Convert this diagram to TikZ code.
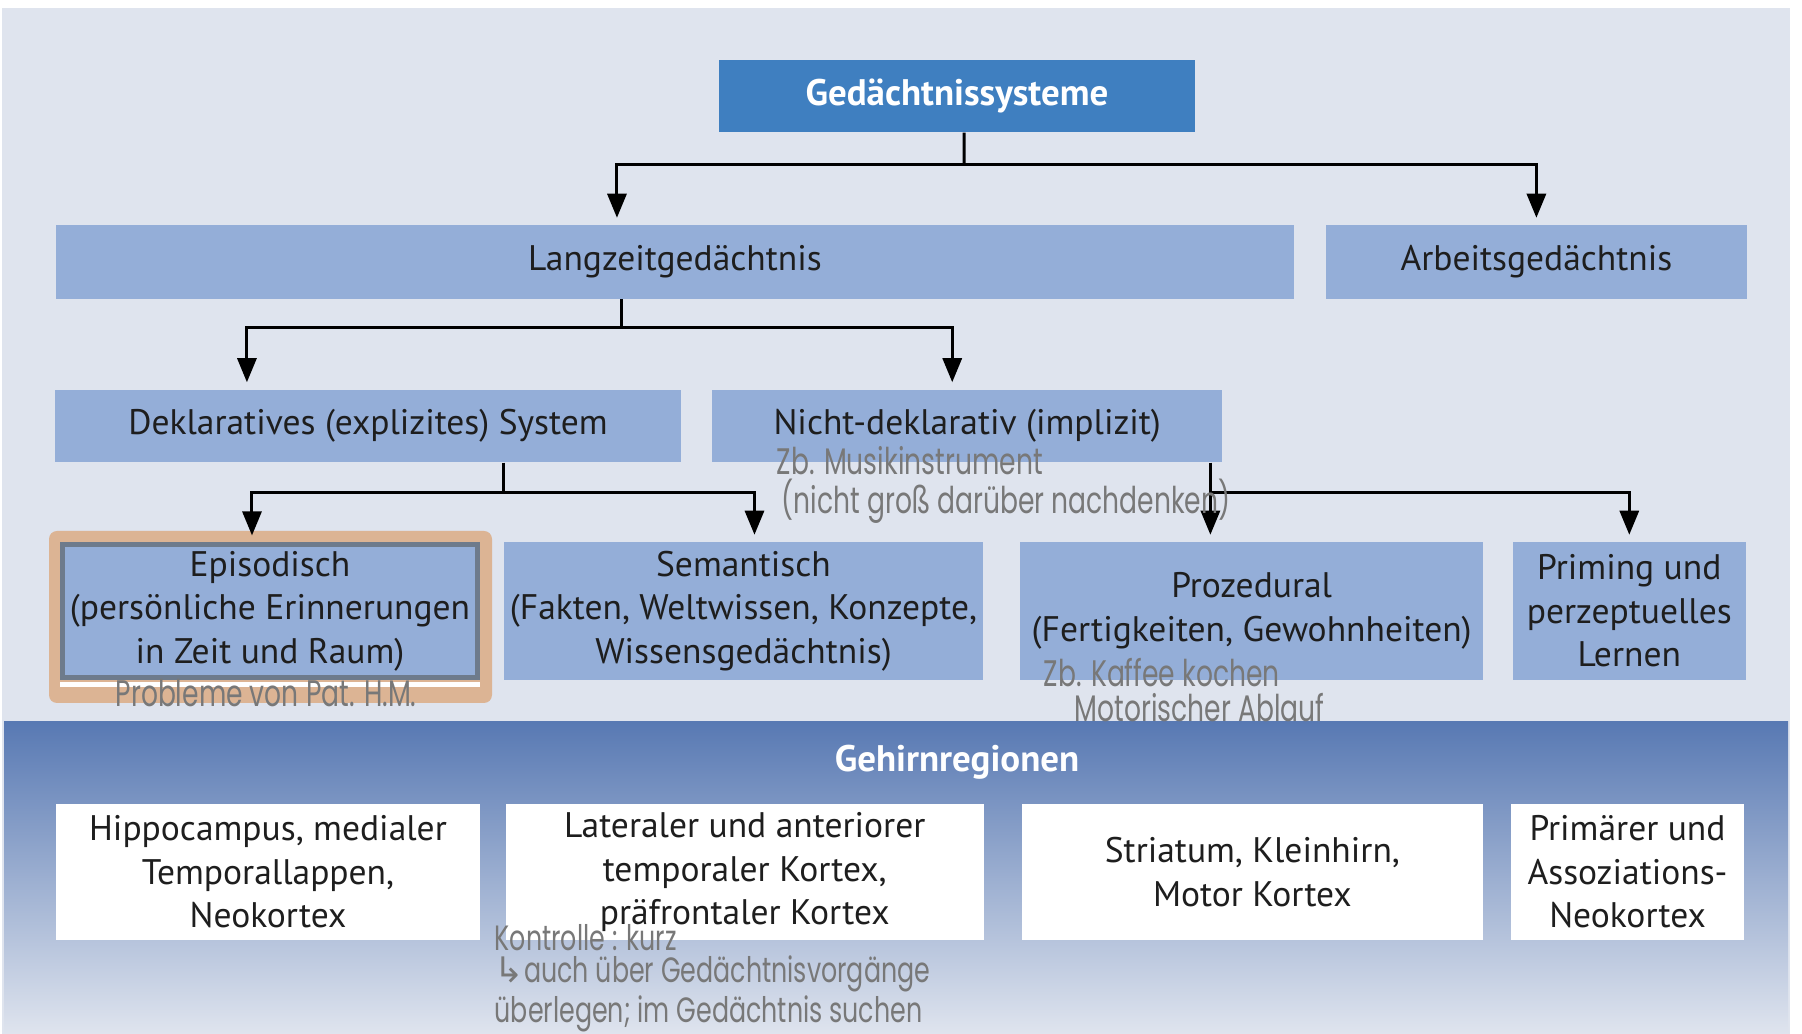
\documentclass[tikz,border=0pt]{standalone}
\usepackage{fontspec}
\setmainfont{PT Sans}
\newfontfamily\handfont[FakeStretch=0.72]{Poppins}
\newfontfamily\symfont{DejaVu Sans}
\usetikzlibrary{arrows.meta, positioning, calc}
\definecolor{gsbg}{HTML}{DFE4EE}
\definecolor{gstop}{HTML}{3F7FC0}
\definecolor{gsbox}{HTML}{94AED8}
\definecolor{gsband}{HTML}{5879B3}
\definecolor{gsorange}{HTML}{DCB494}
\definecolor{gsgrey}{HTML}{6E7B8C}
\definecolor{gshand}{HTML}{787878}
\definecolor{gstext}{HTML}{1E1E1E}

\begin{document}
\begin{tikzpicture}[
    x=0.01cm, y=-0.01cm,
    topbox/.style={rectangle, fill=gstop, text=white, inner sep=0pt, font=\bfseries\fontsize{10.5}{12.4}\selectfont},
    sysbox/.style={rectangle, fill=gsbox, text=gstext, align=center, inner sep=0pt, font=\fontsize{10.1}{12.4}\selectfont},
    regbox/.style={rectangle, fill=white, text=gstext, align=center, inner sep=0pt, minimum height=1.36cm, font=\fontsize{10.1}{12.4}\selectfont},
    arrow/.style={-{Triangle[length=0.24cm, width=0.19cm]}, line width=0.03cm, shorten >=0.07cm},
    hand/.style={text=gshand, anchor=west, align=left, inner sep=0pt, font=\handfont\fontsize{10.5}{9.9}\selectfont}
]
\useasboundingbox (0,0) rectangle (1802,1034);

% background and band
\fill[white] (0,0) rectangle (1802,1034);
\fill[gsbg] (2,8) rectangle (1790,1034);
\shade[top color=gsband, middle color=gsband!40!gsbg, bottom color=gsbg] (4,722) rectangle (1788,1034);
\fill[gsorange, rounded corners=0.08cm] (49,531) rectangle (492,703);

% systems
\node[topbox, minimum width=4.75cm, minimum height=0.72cm] (sys) at (957,96) {Gedächtnissysteme};
\node[sysbox, minimum width=12.38cm, minimum height=0.73cm] (ltm) at (675,262) {Langzeitgedächtnis};
\node[sysbox, minimum width=4.21cm, minimum height=0.73cm, right=0.30cm of ltm] (wm) {Arbeitsgedächtnis};

\node[sysbox, minimum width=6.25cm, minimum height=0.72cm] (dekl) at (368,426) {Deklaratives (explizites) System};
\node[sysbox, minimum width=5.10cm, minimum height=0.72cm, right=0.30cm of dekl] (ndekl) {Nicht-deklarativ (implizit)};

\node[sysbox, minimum width=4.15cm, minimum height=1.32cm, draw=gsgrey, line width=0.05cm] (epi) at (270,611) {Episodisch\\(persönliche Erinnerungen\\in Zeit und Raum)};
\node[sysbox, minimum width=4.78cm, minimum height=1.37cm, right=0.235cm of epi] (sem) {Semantisch\\(Fakten, Weltwissen, Konzepte,\\Wissensgedächtnis)};
\node[sysbox, minimum width=4.63cm, minimum height=1.37cm, right=0.36cm of sem] (proz) {Prozedural\\(Fertigkeiten, Gewohnheiten)};
\node[sysbox, minimum width=2.33cm, minimum height=1.37cm, right=0.28cm of proz] (prim) {Priming und\\perzeptuelles\\Lernen};
\draw[white, line width=0.05cm] ([yshift=-0.05cm]epi.south west) -- ([yshift=-0.05cm]epi.south east);

% brain regions
\node[text=white, font=\bfseries\fontsize{10.5}{12.4}\selectfont] (gr) at (957,762) {Gehirnregionen};
\node[regbox, minimum width=4.24cm] (r1) at (268,872) {Hippocampus, medialer\\Temporallappen,\\Neokortex};
\node[regbox, minimum width=4.78cm, right=0.24cm of r1] (r2) {Lateraler und anteriorer\\temporaler Kortex,\\präfrontaler Kortex};
\node[regbox, minimum width=4.60cm, right=0.37cm of r2] (r3) {Striatum, Kleinhirn,\\Motor Kortex};
\node[regbox, minimum width=2.33cm, right=0.27cm of r3] (r4) {Primärer und\\Assoziations-\\Neokortex};

% connectors
\coordinate (j1) at ($(sys.south)+(7,32)$);
\draw[line width=0.03cm] ([xshift=0.07cm]sys.south) -- (j1);
\draw[arrow] (j1) -| ([xshift=-0.58cm]ltm.north);
\draw[arrow] (j1) -| (wm.north);

\coordinate (j2) at ($([xshift=-0.53cm]ltm.south)+(0,28)$);
\draw[line width=0.03cm] ([xshift=-0.53cm]ltm.south) -- (j2);
\draw[arrow] (j2) -| ([xshift=-1.21cm]dekl.north);
\draw[arrow] (j2) -| ([xshift=-0.15cm]ndekl.north);

\coordinate (j3) at ($([xshift=1.35cm]dekl.south)+(0,30)$);
\draw[line width=0.03cm] ([xshift=1.35cm]dekl.south) -- (j3);
\draw[arrow] (j3) -| ([xshift=-0.18cm]epi.north);
\draw[arrow] (j3) -| ([xshift=0.11cm]sem.north);

\coordinate (j4) at ($([xshift=2.43cm]ndekl.south)+(0,30)$);
\draw[arrow] ([xshift=2.43cm]ndekl.south) -- ([xshift=2.43cm]ndekl.south |- proz.north);
\draw[arrow] (j4) -| (prim.north);

% notes
\node[hand] (n1) at (115,693) {Probleme von Pat. H.M.};
\node[hand, font=\handfont\fontsize{10.5}{8.8}\selectfont] (n2) at (776,485) {Zb. Musikinstrument\\\hspace*{0.05cm}(nicht groß darüber nachdenken)};
\node[hand] (n3) at (1043,690) {Zb. Kaffee kochen\\\hspace*{0.31cm}Motorischer Ablauf};
\node[hand, font=\handfont\fontsize{10}{9.2}\selectfont] (n4) at (494,978) {Kontrolle : kurz\\{\symfont ↳}auch über Gedächtnisvorgänge\\überlegen; im Gedächtnis suchen};

\end{tikzpicture}
\end{document}
